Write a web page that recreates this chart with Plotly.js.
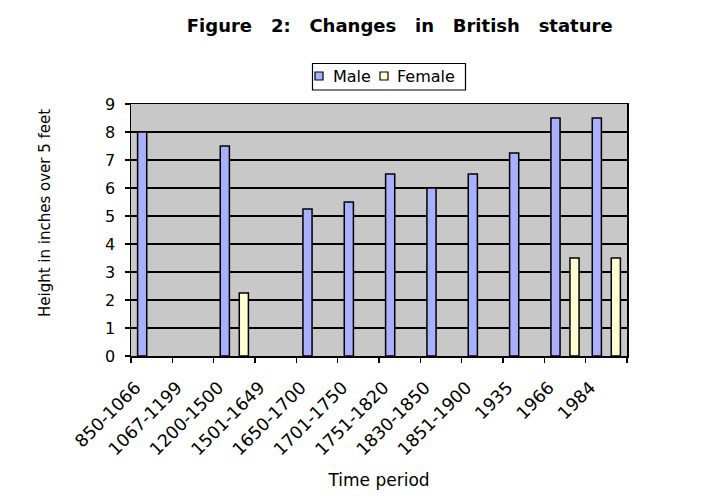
<!DOCTYPE html>
<html>
<head>
<meta charset="utf-8">
<script src="https://cdn.plot.ly/plotly-3.0.1.min.js"></script>
<style>
  html, body { margin: 0; padding: 0; background: #fff; }
  #chart { width: 705px; height: 499px; }
</style>
</head>
<body>
<div id="chart"></div>
<script>
  var periods = ['850-1066', '1067-1199', '1200-1500', '1501-1649', '1650-1700', '1701-1750',
                 '1751-1820', '1830-1850', '1851-1900', '1935', '1966', '1984'];
  var maleHeight = [8, null, 7.5, null, 5.25, 5.5, 6.5, 6, 6.5, 7.25, 8.5, 8.5];
  var femaleHeight = [null, null, 2.25, null, null, null, null, null, null, null, 3.5, 3.5];
  var yTicks = [0, 1, 2, 3, 4, 5, 6, 7, 8, 9];
  var seriesNames = ['Male', 'Female'];
  var seriesColors = ['#a9b0ff', '#ffffd2'];

  var font = '"DejaVu Sans", sans-serif';
  var sp = '\u00A0\u00A0\u00A0';

  // plot area in pixels, used to place the hand-made legend and y title
  var M = { l: 131, r: 78, t: 104, b: 143 };
  var W = 705 - M.l - M.r, H = 499 - M.t - M.b;
  function px(x) { return (x - M.l) / W; }
  function py(y) { return 1 - (y - M.t) / H; }

  var data = [maleHeight, femaleHeight].map(function(vals, i) {
    return {
      x: periods, y: vals, type: 'bar', name: seriesNames[i],
      marker: { color: seriesColors[i], line: { color: '#000', width: 1.5 } }
    };
  });

  var shapes = [{
    type: 'rect', xref: 'paper', yref: 'paper',
    x0: px(312.5), x1: px(465.5), y0: py(63.5), y1: py(90),
    fillcolor: '#fff', line: { color: '#000', width: 1.2 }, layer: 'above'
  }];
  var annotations = [{
    xref: 'paper', yref: 'paper', x: px(45), y: py(213),
    xanchor: 'center', yanchor: 'middle', showarrow: false, textangle: -90,
    text: 'Height in inches over 5 feet', font: { size: 15 }
  }];
  var legendX = [315, 380];
  var textX = [331, 395];
  seriesNames.forEach(function(n, i) {
    shapes.push({
      type: 'rect', xref: 'paper', yref: 'paper',
      x0: px(legendX[i]), x1: px(legendX[i] + 8), y0: py(72), y1: py(80),
      fillcolor: seriesColors[i], line: { color: '#000', width: 1.2 }, layer: 'above'
    });
    annotations.push({
      xref: 'paper', yref: 'paper', x: px(textX[i]), y: py(76.5),
      xanchor: 'left', yanchor: 'middle', showarrow: false,
      text: n, font: { size: 16 }
    });
  });

  var layout = {
    width: 705, height: 499,
    paper_bgcolor: '#fff',
    plot_bgcolor: '#c8c8c8',
    margin: M,
    font: { family: font, color: '#000', size: 16 },
    title: {
      text: 'Figure' + sp + '2:' + sp + 'Changes' + sp + 'in' + sp + 'British' + sp + 'stature',
      font: { family: font, size: 18, weight: 'bold', color: '#000' },
      x: 0.567, xanchor: 'center', y: 0.948, yanchor: 'middle'
    },
    barmode: 'group',
    bargap: 0.08,
    bargroupgap: 0.52,
    showlegend: false,
    shapes: shapes,
    annotations: annotations,
    xaxis: {
      type: 'category',
      tickangle: -45,
      ticks: 'outside', tickson: 'boundaries', ticklen: 5, tickcolor: '#000', tickwidth: 1.5,
      ticklabelstandoff: 13,
      ticklabelshift: -16,
      showline: true, linecolor: '#000', linewidth: 1.5, mirror: true,
      showgrid: false,
      tickfont: { size: 17.5 },
      title: { text: 'Time period', font: { size: 17 }, standoff: 16 }
    },
    yaxis: {
      range: [0, 9], tickvals: yTicks, ticktext: yTicks.map(String),
      ticks: 'outside', ticklen: 5, tickcolor: '#000', tickwidth: 1.5,
      ticklabelstandoff: 6,
      showline: true, linecolor: '#000', linewidth: 1.5, mirror: true,
      showgrid: true, gridcolor: '#000', gridwidth: 1.5,
      zeroline: false,
      tickfont: { size: 16 }
    }
  };

  Plotly.newPlot('chart', data, layout, { displayModeBar: false, staticPlot: true });
</script>
</body>
</html>
